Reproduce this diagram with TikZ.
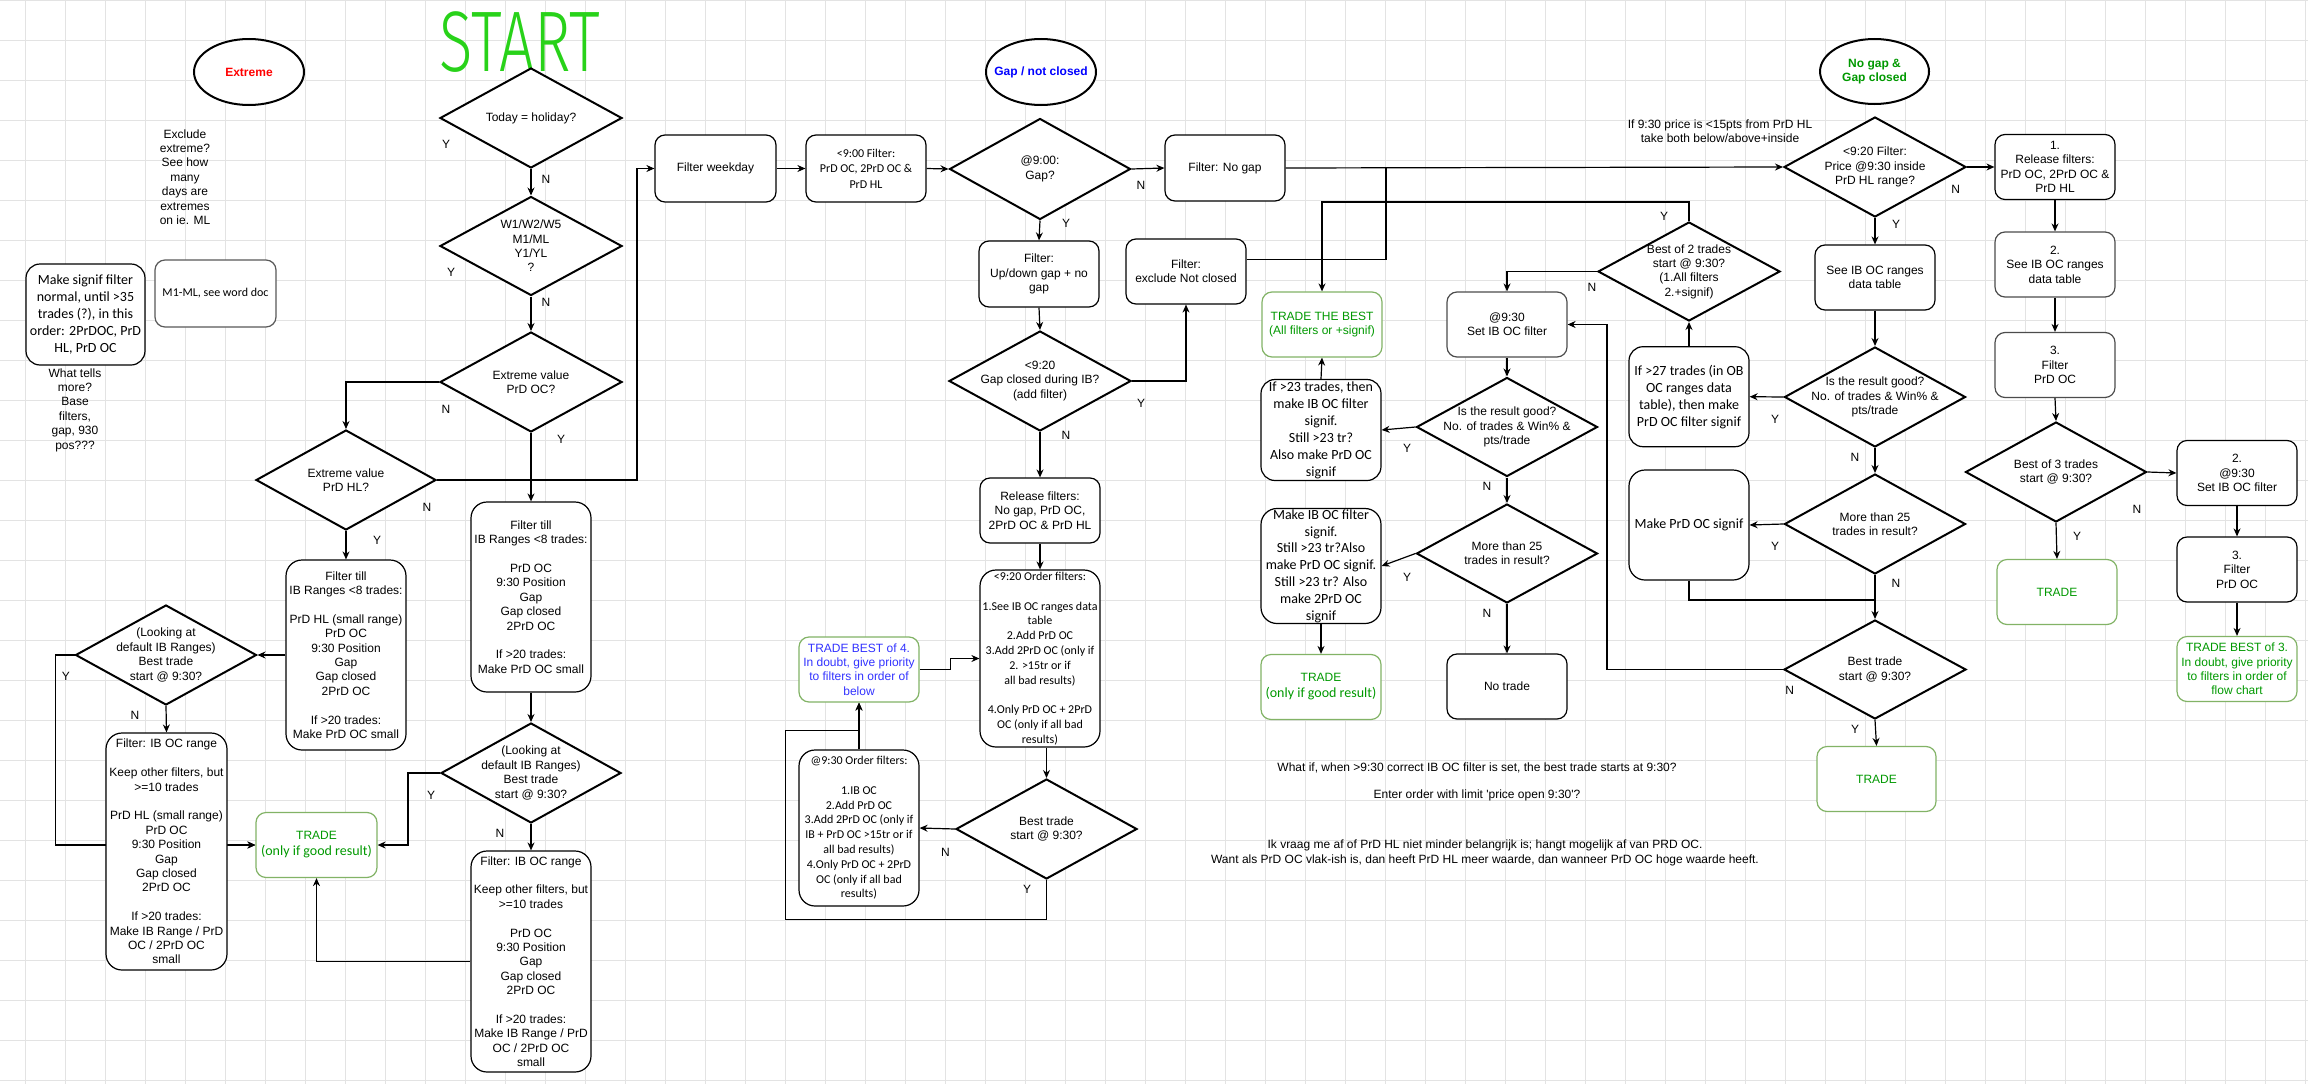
\documentclass[tikz,border=0pt]{standalone}
\usepackage{fontspec}
\setmainfont{Liberation Sans}
\newfontfamily\calfont{Carlito}
\IfFontExistsTF{Fira Sans Light}{\newfontfamily\startfont{Fira Sans Light}}{\newfontfamily\startfont{Liberation Sans}}
\usetikzlibrary{shapes.geometric,arrows.meta,calc}
\definecolor{gline}{HTML}{E3E3E3}
\definecolor{grbd}{HTML}{82B366}
\definecolor{grtx}{HTML}{009900}
\definecolor{bltx}{HTML}{3333FF}
\definecolor{rdtx}{HTML}{FF0000}
\definecolor{blbold}{HTML}{0000FF}
\definecolor{startg}{RGB}{40,210,25}
\pgfdeclarelayer{bg}
\pgfdeclarelayer{edges}
\pgfsetlayers{bg,edges,main}
\begin{document}
\begin{tikzpicture}[x=1pt,y=-1pt,
  ar/.style={font=\fontsize{12}{14.4}\selectfont, align=center, inner sep=0pt},
  cal/.style={font=\calfont\fontsize{14}{17}\selectfont, align=center, inner sep=0pt},
  cals/.style={font=\calfont\fontsize{12}{14.8}\selectfont, align=center, inner sep=0pt},
  rb/.style 2 args={draw, rounded corners=10pt, line width=1.2pt, fill=white, minimum width=#1pt, minimum height=#2pt},
  gb/.style 2 args={rb={#1}{#2}, draw=grbd},
  dia/.style 2 args={diamond, draw, line width=2pt, fill=white, inner sep=0pt, minimum width=#1pt, minimum height=#2pt},
  ell/.style={ellipse, draw, line width=2pt, fill=white, minimum width=110pt, minimum height=66pt, inner sep=0pt},
  etx/.style={font=\bfseries\fontsize{12}{14.4}\selectfont, align=center, inner sep=0pt},
  trtx/.style={text=grtx, align=center, inner sep=0pt, font=\fontsize{14}{16}\selectfont},
  lbl/.style={font=\fontsize{12}{14.4}\selectfont, inner sep=0pt},
  arr/.style={draw, line width=1.2pt, -{Stealth[length=8pt,width=7pt]}},
  ln/.style={draw, line width=1.2pt},
]
\useasboundingbox (0,0) rectangle (2308,1084);
\begin{pgfonlayer}{bg}
\fill[white] (0,0) rectangle (2308,1084);
\foreach \gx in {25,65,...,2305} \draw[gline, line width=0.8pt] (\gx,0) -- (\gx,1084);
\foreach \gy in {0,40,...,1080} \draw[gline, line width=0.8pt] (0,\gy) -- (2308,\gy);
\end{pgfonlayer}

% START
\begin{scope}[shift={(520,42)}, xscale=0.72]
\node[transform shape, text=startg, font=\startfont\fontsize{86}{86}\selectfont, inner sep=0pt] (start) at (0,0) {START};
\end{scope}

% ellipses
\node[ell] (eExt) at (249,72) {};
\node[etx, text=rdtx] at (eExt) {Extreme};
\node[ell] (eGap) at (1041,72) {};
\node[etx, text=blbold] at (eGap) {Gap / not closed};
\node[ell, minimum width=109pt, minimum height=65pt] (eNo) at (1874.5,71.5) {};
\node[etx, text=grtx] at (eNo) {No gap \&\\Gap closed};

% left notes
\node[rb={119}{101}, cal, rounded corners=14pt] (bSignif) at (85.5,314.5) {Make signif filter\\normal, until >35\\trades (?), in this\\order: 2PrDOC, PrD\\HL, PrD OC};
\node[rb={121}{67}, cals, draw=black!65] (bM1) at (215.5,293.5) {M1-ML, see word doc};
\node[ar] (tExcl) at (185,177) {Exclude\\extreme?\\See how\\many\\days are\\extremes\\on ie. ML};
\node[ar] (tWhat) at (75,410) {What tells\\more?\\Base\\filters,\\gap, 930\\pos???};

% left flow
\node[dia={182}{100}] (dHol) at (531,118) {};
\node[ar] at (dHol) {Today = holiday?};
\node[dia={182}{99}] (dW1) at (531,246) {};
\node[ar] at (dW1) {W1/W2/W5\\M1/ML\\Y1/YL\\?};
\node[dia={182}{100}] (dOC) at (531,382) {};
\node[ar] at (dOC) {Extreme value\\PrD OC?};
\node[dia={180}{100}] (dHL) at (346,480) {};
\node[ar] at (dHL) {Extreme value\\PrD HL?};

\node[rb={120}{190}, ar, rounded corners=16pt] (bFtHL) at (346,655) {Filter till\\IB Ranges <8 trades:\\[\baselineskip]PrD HL (small range)\\PrD OC\\9:30 Position\\Gap\\Gap closed\\2PrD OC\\[\baselineskip]If >20 trades:\\Make PrD OC small};
\node[dia={181}{100}] (dL1) at (166,655) {};
\node[ar] at (dL1) {(Looking at\\default IB Ranges)\\Best trade\\start @ 9:30?};
\node[rb={121}{237}, ar, rounded corners=16pt] (bIBL) at (166.5,851.5) {Filter: IB OC range\\[\baselineskip]Keep other filters, but\\>=10 trades\\[\baselineskip]PrD HL (small range)\\PrD OC\\9:30 Position\\Gap\\Gap closed\\2PrD OC\\[\baselineskip]If >20 trades:\\Make IB Range / PrD\\OC / 2PrD OC\\small};
\node[gb={121}{65}] (bTr1) at (316.5,845) {};
\node[trtx] at (bTr1) {{\fontsize{12}{14}\selectfont TRADE}\\{\calfont\fontsize{14}{16}\selectfont (only if good result)}};
\node[rb={120}{190}, ar, rounded corners=16pt] (bFtOC) at (531,597) {Filter till\\IB Ranges <8 trades:\\[\baselineskip]PrD OC\\9:30 Position\\Gap\\Gap closed\\2PrD OC\\[\baselineskip]If >20 trades:\\Make PrD OC small};
\node[dia={180}{100}] (dL2) at (531,773) {};
\node[ar] at (dL2) {(Looking at\\default IB Ranges)\\Best trade\\start @ 9:30?};
\node[rb={120}{221}, ar, rounded corners=16pt] (bIBR) at (531,961.5) {Filter: IB OC range\\[\baselineskip]Keep other filters, but\\>=10 trades\\[\baselineskip]PrD OC\\9:30 Position\\Gap\\Gap closed\\2PrD OC\\[\baselineskip]If >20 trades:\\Make IB Range / PrD\\OC / 2PrD OC\\small};

% centre flow
\node[rb={121}{67}, ar] (bWeek) at (715.5,168.5) {Filter weekday};
\node[rb={120}{67}, cals, font=\calfont\fontsize{12}{15.4}\selectfont] (b900) at (866,168.5) {<9:00 Filter:\\PrD OC, 2PrD OC \&\\PrD HL};
\node[dia={181}{101}] (dGap) at (1040,169) {};
\node[ar] at (dGap) {@9:00:\\Gap?};
\node[rb={120}{66}, ar] (bUpd) at (1039,274) {Filter:\\Up/down gap + no\\gap};
\node[dia={182}{100}] (d920) at (1040,381) {};
\node[ar] at (d920) {<9:20\\Gap closed during IB?\\(add filter)};
\node[rb={120}{65}, ar] (bRel) at (1040,510.5) {Release filters:\\No gap, PrD OC,\\2PrD OC \& PrD HL};
\node[rb={120}{177}, cals, rounded corners=16pt] (bOrd920) at (1040,658.5) {<9:20 Order filters:\\[\baselineskip]1.See IB OC ranges data\\table\\2.Add PrD OC\\3.Add 2PrD OC (only if\\2. >15tr or if\\all bad results)\\[\baselineskip]4.Only PrD OC + 2PrD\\OC (only if all bad\\results)};
\node[dia={181}{100}] (dBest) at (1046.5,829) {};
\node[ar] at (dBest) {Best trade\\start @ 9:30?};
\node[rb={120}{156}, cals, rounded corners=16pt] (bOrd930) at (859,828) {@9:30 Order filters:\\[\baselineskip]1.IB OC\\2.Add PrD OC\\3.Add 2PrD OC (only if\\IB + PrD OC >15tr or if\\all bad results)\\4.Only PrD OC + 2PrD\\OC (only if all bad\\results)};
\node[gb={120}{65}, ar, text=bltx] (bTB4) at (859,669.5) {TRADE BEST of 4.\\In doubt, give priority\\to filters in order of\\below};
\node[rb={120}{66}, ar] (bNogap) at (1225,168) {Filter: No gap};
\node[rb={120}{65}, ar] (bExcl) at (1186,271.5) {Filter:\\exclude Not closed};

% middle right
\node[gb={120}{65}, ar, text=grtx] (bTTB) at (1322,324.5) {TRADE THE BEST\\(All filters or +signif)};
\node[rb={120}{101}, cal, rounded corners=14pt] (b23) at (1321,430) {If >23 trades, then\\make IB OC filter\\signif.\\Still >23 tr?\\Also make PrD OC\\signif};
\node[rb={120}{115}, cal, font=\calfont\fontsize{14}{16.8}\selectfont, rounded corners=16pt] (bMIB) at (1321,566) {Make IB OC filter\\signif.\\Still >23 tr?Also\\make PrD OC signif.\\Still >23 tr? Also\\make 2PrD OC\\signif};
\node[gb={120}{65}] (bTr2) at (1321,687) {};
\node[trtx] at (bTr2) {{\fontsize{12}{14}\selectfont TRADE}\\{\calfont\fontsize{14}{16}\selectfont (only if good result)}};
\node[rb={120}{65}, ar, draw=black!70] (bSet) at (1507,324.5) {@9:30\\Set IB OC filter};
\node[dia={181}{99}] (dGood1) at (1507,427) {};
\node[ar] at (dGood1) {Is the result good?\\No. of trades \& Win\% \&\\pts/trade};
\node[dia={181}{99}] (dMore1) at (1507,553.5) {};
\node[ar] at (dMore1) {More than 25\\trades in result?};
\node[rb={120}{65}, ar] (bNoTr) at (1507,686.5) {No trade};
\node[dia={182}{99}] (dBo2) at (1689,271.5) {};
\node[ar] at (dBo2) {Best of 2 trades\\start @ 9:30?\\(1.All filters\\2.+signif)};
\node[rb={120}{100}, cal, rounded corners=14pt] (b27) at (1689,396.7) {If >27 trades (in OB\\OC ranges data\\table), then make\\PrD OC filter signif};
\node[rb={120}{110}, cal, rounded corners=16pt] (bMPrD) at (1689,525) {Make PrD OC signif};

% right flow
\node[dia={182}{100}] (d920F) at (1875,167) {};
\node[ar] at (d920F) {<9:20 Filter:\\Price @9:30 inside\\PrD HL range?};
\node[rb={120}{65}, ar] (bSee) at (1875,277.5) {See IB OC ranges\\data table};
\node[dia={181}{100}] (dGood2) at (1875,397) {};
\node[ar] at (dGood2) {Is the result good?\\No. of trades \& Win\% \&\\pts/trade};
\node[dia={181}{100}] (dMore2) at (1875,524) {};
\node[ar] at (dMore2) {More than 25\\trades in result?};
\node[dia={182}{99}] (dBestR) at (1875,669.5) {};
\node[ar] at (dBestR) {Best trade\\start @ 9:30?};
\node[gb={119}{65}, ar, text=grtx] (bTr3) at (1876.5,779) {TRADE};
\node[rb={120}{65}, ar] (bR1) at (2055,167) {1.\\Release filters:\\PrD OC, 2PrD OC \&\\PrD HL};
\node[rb={120}{65}, ar, draw=black!70] (bR2) at (2055,264.5) {2.\\See IB OC ranges\\data table};
\node[rb={120}{65}, ar, draw=black!70] (bR3) at (2055,365) {3.\\Filter\\PrD OC};
\node[dia={181}{100}] (dBo3) at (2056,472) {};
\node[ar] at (dBo3) {Best of 3 trades\\start @ 9:30?};
\node[gb={120}{65}, ar, text=grtx] (bTr4) at (2057,592) {TRADE};
\node[rb={120}{65}, ar] (bS2) at (2237,473) {2.\\@9:30\\Set IB OC filter};
\node[rb={120}{65}, ar] (bS3) at (2237,569.5) {3.\\Filter\\PrD OC};
\node[gb={120}{65}, ar, text=grtx] (bTB3) at (2237,669) {TRADE BEST of 3.\\In doubt, give priority\\to filters in order of\\flow chart};

% free texts
\node[ar] (tPrice) at (1720,131) {If 9:30 price is <15pts from PrD HL\\take both below/above+inside};
\node[ar] (tWhatif) at (1477,768) {What if, when >9:30 correct IB OC filter is set, the best trade starts at 9:30?};
\node[ar] (tEnter) at (1477,795) {Enter order with limit \textquotesingle price open 9:30\textquotesingle?};
\node[ar, font=\fontsize{12}{15}\selectfont] (tIk) at (1485,852.5) {Ik vraag me af of PrD HL niet minder belangrijk is; hangt mogelijk af van PRD OC.\\Want als PrD OC vlak-ish is, dan heeft PrD HL meer waarde, dan wanneer PrD OC hoge waarde heeft.};

% Y/N labels
\foreach \p/\t in {{446,144}/Y,{546,179}/N,{451,272}/Y,{546,302}/N,{446,409}/N,{561,439}/Y,{427,507}/N,{377,540}/Y,
  {66,676}/Y,{135,715}/N,{431,795}/Y,{500,833}/N,
  {1141,185}/N,{1066,223}/Y,{1141,403}/Y,{1066,435}/N,{945.5,852}/N,{1027,889}/Y,
  {1664,216}/Y,{1592,287}/N,{1407,448}/Y,{1487,486}/N,{1407,577}/Y,{1487,613}/N,
  {1955.6,189}/N,{1896,224}/Y,{1775,419}/Y,{1855,457.6}/N,{1775,546}/Y,{1896,583}/N,
  {1789.6,690}/N,{1855,729}/Y,{2137,509}/N,{2077,536}/Y}
  \node[lbl] at (\p) {\t};

\coordinate (jEx) at (1386,168);

\begin{pgfonlayer}{edges}
% left
\draw[arr] (dHol.south) -- (dW1.north);
\draw[arr] (dW1.south) -- (dOC.north);
\draw[arr] (dOC.west) -| (dHL.north);
\draw[arr] (dOC.south) -- (bFtOC.north);
\draw[arr] (dHL.east) -- ++(200,0) |- (bWeek.west);
\draw[arr] (dHL.south) -- (bFtHL.north);
\draw[arr] (bFtHL.west) -- (dL1.east);
\draw[arr] (dL1.south) -- (bIBL.north);
\draw[arr] (dL1.west) -- ++(-19,0) |- (bTr1.west);
\draw[arr] (bIBL.east |- bTr1.west) -- (bTr1.west);
\draw[arr] (bFtOC.south) -- (dL2.north);
\draw[arr] (dL2.west) -- ++(-32,0) |- (bTr1.east);
\draw[arr] (dL2.south) -- (bIBR.north);
\draw[arr] (bIBR.west) -| (bTr1.south);
% centre
\draw[arr] (bWeek.east) -- (b900.west);
\draw[arr] (b900.east) -- (dGap.west);
\draw[arr] (dGap.east) -- (bNogap.west);
\draw[arr] (dGap.south) -- (bUpd.north);
\draw[arr] (bUpd.south) -- (d920.north);
\draw[arr] (d920.east) -| (bExcl.south);
\draw[arr] (d920.south) -- (bRel.north);
\draw[arr] (bRel.south) -- (bOrd920.north);
\draw[arr] (bOrd920.south -| dBest.north) -- (dBest.north);
\draw[arr] (dBest.west) -- (bOrd930.east);
\draw[arr] (dBest.south) |- (785.5,919.5) |- ($(bTB4.south)+(0,27.5)$) -- (bTB4.south);
\draw[arr] (bOrd930.north) -- (bTB4.south);
\draw[arr] (bTB4.east) -- ++(30.5,0) |- (bOrd920.west);
\draw[arr] (bNogap.east) -- (d920F.west);
\draw[ln] ($(bExcl.east)+(0,-12)$) -| (jEx);
% middle right
\draw[arr] (dBo2.north) -- (dBo2.north |- 0,202) -| (bTTB.north);
\draw[arr] (dBo2.west) -| (bSet.north);
\draw[arr] (bSet.south) -- (dGood1.north);
\draw[arr] (dGood1.west) -- (b23.east);
\draw[arr] (dGood1.south) -- (dMore1.north);
\draw[arr] (dMore1.west) -- (bMIB.east);
\draw[arr] (dMore1.south) -- (bNoTr.north);
\draw[arr] (b23.north) -- (bTTB.south);
\draw[arr] (bMIB.south) -- (bTr2.north);
\draw[arr] (b27.north) -- (dBo2.south);
% right
\draw[arr] (d920F.south) -- (bSee.north);
\draw[arr] (bSee.south) -- (dGood2.north);
\draw[arr] (dGood2.west) -- (b27.east);
\draw[arr] (dGood2.south) -- (dMore2.north);
\draw[arr] (dMore2.west) -- (bMPrD.east);
\draw[arr] (dMore2.south) -- (dBestR.north);
\draw[ln] (bMPrD.south) |- (dBestR.north |- 0,600);
\draw[arr] (dBestR.west) -- (1607,669.5) |- (bSet.east);
\draw[arr] (dBestR.south) -- (bTr3.north);
\draw[arr] (d920F.east) -- (bR1.west);
\draw[arr] (bR1.south) -- (bR2.north);
\draw[arr] (bR2.south) -- (bR3.north);
\draw[arr] (bR3.south) -- (dBo3.north);
\draw[arr] (dBo3.east) -- (bS2.west);
\draw[arr] (dBo3.south) -- (bTr4.north);
\draw[arr] (bS2.south) -- (bS3.north);
\draw[arr] (bS3.south) -- (bTB3.north);
\end{pgfonlayer}
\end{tikzpicture}
\end{document}
